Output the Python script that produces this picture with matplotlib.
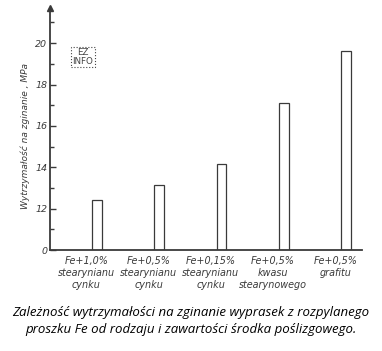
import matplotlib.pyplot as plt
import numpy as np

# dane (os Y przerwana: 0, potem od 12 MPa)
kategorie = ["Fe+1,0%\nstearynianu\ncynku",
             "Fe+0,5%\nstearynianu\ncynku",
             "Fe+0,15%\nstearynianu\ncynku",
             "Fe+0,5%\nkwasu\nstearynowego",
             "Fe+0,5%\ngrafitu"]
wytrzymalosc = [12.4, 13.15, 14.15, 17.1, 19.6]
y_ticks = [10, 12, 14, 16, 18, 20]
y_tick_labels = ["0", "12", "14", "16", "18", "20"]
y_minor = [11, 13, 15, 17, 19, 21]

podpis = ("Zależność wytrzymałości na zginanie wyprasek z rozpylanego\n"
          "proszku Fe od rodzaju i zawartości środka poślizgowego.")

kolor = "#3a3a3a"

fig = plt.figure(figsize=(3.82, 3.51), dpi=100)
ax = fig.add_axes([50/382, 101/351, 312/382, 242/351])

x = np.arange(len(kategorie))
# slupki zaczynaja sie od przerwanej osi (poziom "0" = 10)
ax.bar(x, np.array(wytrzymalosc) - 10, bottom=10, width=0.16,
       facecolor="white", edgecolor=kolor, linewidth=0.9)

ax.set_xlim(-0.755, 4.257)
ax.set_ylim(10, 21.7)

for s in ["top", "right"]:
    ax.spines[s].set_visible(False)
for s in ["left", "bottom"]:
    ax.spines[s].set_color(kolor)
    ax.spines[s].set_linewidth(1.3)

# strzalka na osi Y
ax.plot(0, 1, marker="^", color=kolor, markersize=5,
        transform=ax.transAxes, clip_on=False)

ax.set_yticks(y_ticks)
ax.set_yticklabels(y_tick_labels, fontsize=6.8, style="italic", color=kolor)
ax.set_yticks(y_minor, minor=True)
ax.tick_params(axis="y", which="major", direction="in", length=4,
               width=1, color=kolor, pad=2)
ax.tick_params(axis="y", which="minor", direction="in", length=3,
               width=1, color=kolor)

ax.set_xticks(x - 0.17)
ax.set_xticklabels(kategorie, fontsize=6.9, style="italic", color=kolor,
                   linespacing=1.25)
ax.tick_params(axis="x", length=0, pad=4)

ax.set_ylabel("Wytrzymałość na zginanie , MPa", fontsize=6.5, style="italic",
              color=kolor)
ax.yaxis.set_label_coords(-0.064, 0.47)

# znak wodny
fig.text(83/382, 1 - 57/351, "EZ\nINFO", fontsize=6.3, ha="center", va="center",
         color="#444444", linespacing=0.9,
         bbox=dict(boxstyle="square,pad=0.15", fc="white", ec="#444444",
                   ls=":", lw=0.8))

fig.text(0.5, 1 - 321/351, podpis, ha="center", va="center",
         fontsize=9.5, style="italic", family="Open Sans", color="black",
         linespacing=1.45)

fig.savefig("out.png", dpi=100)
